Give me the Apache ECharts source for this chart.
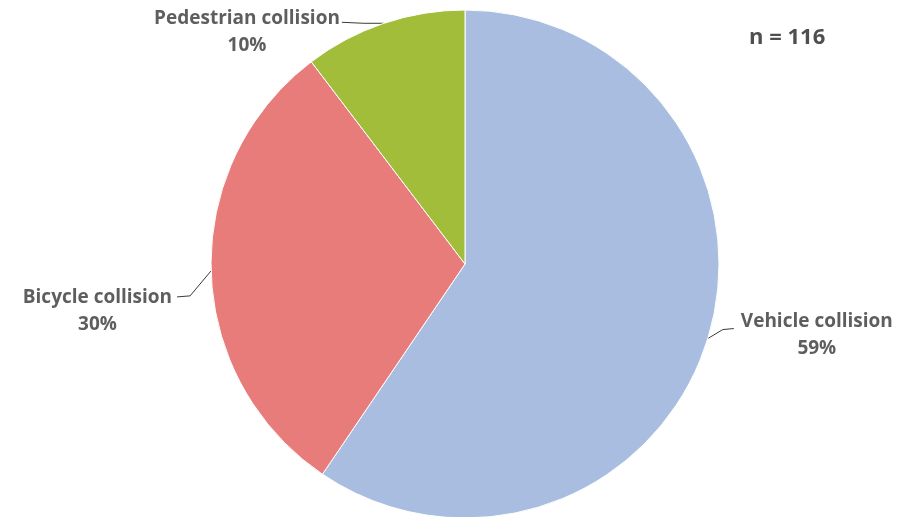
<!DOCTYPE html>
<html>
<head>
<meta charset="utf-8">
<script src="https://cdn.jsdelivr.net/npm/echarts@6/dist/echarts.min.js"></script>
<style>
html,body{margin:0;padding:0;background:#fff;}
#chart{width:914px;height:517px;}
</style>
</head>
<body>
<div id="chart"></div>
<script>
// Data
const categories = ['Vehicle collision', 'Bicycle collision', 'Pedestrian collision'];
const counts = [69, 35, 12];
const sampleLabel = 'n = 116';

// Styles (kept separate from data)
const colors = ['#a9bde1', '#e87c7a', '#a1bd3a'];
// label line offsets relative to slice edge point, text anchor offsets
const labelCfg = [
  { side: 'right', line: [[0, 0], [15, -9], [26, -10]], tx: 33, ty: -30 },
  { side: 'left',  line: [[0, 0], [-21, 25], [-34, 26]], tx: -39, ty: 13 },
  { side: 'left',  line: [[0, 0], [-20, 0], [-42, -1]], tx: -44, ty: -18 }
];

const total = counts.reduce((a, b) => a + b, 0);
const cx = 465, cy = 264, R = 254;

function edgePoint(idx) {
  let before = 0;
  for (let i = 0; i < idx; i++) before += counts[i];
  const mid = (before + counts[idx] / 2) / total * Math.PI * 2; // clockwise from top
  return [cx + R * Math.sin(mid), cy - R * Math.cos(mid)];
}

const chart = echarts.init(document.getElementById('chart'), null, { renderer: 'canvas' });
chart.setOption({
  animation: false,
  backgroundColor: '#ffffff',
  graphic: [{
    type: 'text',
    left: 749,
    top: 27,
    style: {
      text: sampleLabel,
      fontFamily: 'Open Sans',
      fontWeight: 'bold',
      fontSize: 22,
      fill: '#4f4f4f'
    }
  }],
  series: [{
    type: 'pie',
    center: [cx, cy],
    radius: [0, R],
    startAngle: 90,
    clockwise: true,
    avoidLabelOverlap: false,
    itemStyle: { borderColor: '#ffffff', borderWidth: 1 },
    data: categories.map((c, i) => ({ name: c, value: counts[i], itemStyle: { color: colors[i] } })),
    label: {
      show: true,
      position: 'outside',
      formatter: p => '{a|' + p.name + '}\n{a|' + Math.round(p.value / total * 100) + '%}',
      rich: {
        a: {
          fontFamily: 'Open Sans',
          fontWeight: 'bold',
          fontSize: 19,
          lineHeight: 27,
          color: '#5f5d5d',
          align: 'center'
        }
      }
    },
    labelLine: {
      show: true,
      length: 10,
      length2: 10,
      lineStyle: { color: '#3a3a3a', width: 1 }
    },
    labelLayout: function (params) {
      const i = params.dataIndex;
      const cfg = labelCfg[i];
      const e = (params.labelLinePoints && params.labelLinePoints[0]) || edgePoint(i);
      const w = params.labelRect.width;
      const x = cfg.side === 'right' ? e[0] + cfg.tx + w / 2 : e[0] + cfg.tx - w / 2;
      return {
        x: x,
        y: e[1] + cfg.ty,
        align: 'center',
        verticalAlign: 'top',
        labelLinePoints: cfg.line.map(d => [e[0] + d[0], e[1] + d[1]])
      };
    }
  }]
});
</script>
</body>
</html>
